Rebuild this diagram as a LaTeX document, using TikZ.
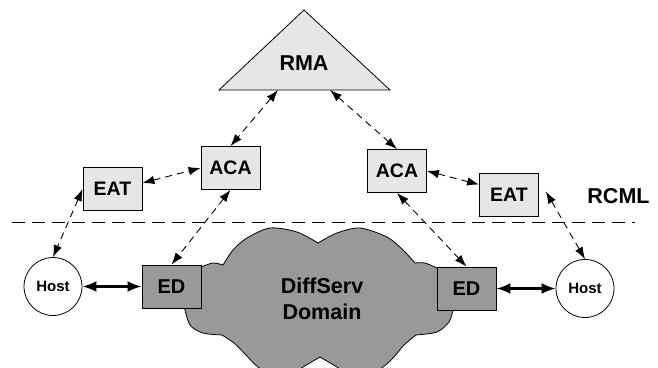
\documentclass[tikz,border=0pt]{standalone}
\usepackage{fontspec}
\setmainfont{Liberation Sans}
\usetikzlibrary{arrows.meta}
\definecolor{boxgray}{HTML}{E6E6E6}
\definecolor{cloudgray}{HTML}{999999}

\begin{document}
\begin{tikzpicture}[x=1pt,y=1pt,
  agentbox/.style={draw, fill=boxgray, line width=0.8pt, minimum width=59pt, minimum height=43pt, inner sep=0pt, font=\fontsize{19.5}{23}\selectfont\bfseries},
  edgebox/.style={agentbox, fill=cloudgray, font=\fontsize{20}{23}\selectfont\bfseries},
  hostnode/.style={circle, draw, fill=white, line width=0.8pt, minimum size=58pt, inner sep=0pt, font=\fontsize{15}{18}\selectfont\bfseries},
  ctrl/.style={line width=0.9pt, dash pattern=on 7pt off 5pt, {Latex[length=12pt,width=8.5pt]}-{Latex[length=12pt,width=8.5pt]}},
  data/.style={line width=2.4pt, {Latex[length=14pt,width=11pt]}-{Latex[length=14pt,width=11pt]}}]

\useasboundingbox (0,0) rectangle (658,367);

% DiffServ cloud, cut off by the lower edge
\begin{scope}
\clip (0,0) rectangle (658,367);
\draw [fill=cloudgray, line width=0.8pt]
  plot [smooth] coordinates {(201,100) (213,104) (223,102)}
  -- plot [smooth] coordinates {(223,102) (233,117) (247,129) (270,139) (297,135) (318,124)}
  -- plot [smooth] coordinates {(318,124) (337,134) (360,139) (387,130) (403,117) (415,104)}
  -- plot [smooth] coordinates {(415,104) (425,104) (437,99)}
  -- (453,57)
  -- plot [smooth] coordinates {(453,57) (449,45) (437,35) (416,32)}
  -- plot [smooth] coordinates {(416,32) (404,22) (394,10) (383,0) (360,-14) (337,0) (320,10)}
  -- plot [smooth] coordinates {(320,10) (303,0) (280,-14) (258,0) (246,12) (234,24) (222,32)}
  -- plot [smooth] coordinates {(222,32) (203,34) (190,42) (184,61)}
  -- cycle;
\end{scope}
\node [align=center, font=\fontsize{21.5}{26}\selectfont\bfseries] (domain) at (322,68) {DiffServ\\Domain};

% RMA on top, with the two points where its links leave the base
\draw [fill=boxgray, line width=0.8pt] (219,277) -- (304,357) -- (390,277) -- cycle;
\node [font=\fontsize{21.5}{25}\selectfont\bfseries] (rma) at (304,304) {RMA};
\coordinate (rmal) at (278,277);
\coordinate (rmar) at (330,277);

% Agents of the control layer
\node [agentbox] (acal) at (230.5,199) {ACA};
\node [agentbox] (acar) at (397,196) {ACA};
\node [agentbox] (eatl) at (112.5,178) {EAT};
\node [agentbox] (eatr) at (509,172.5) {EAT};

% Layer border
\draw [line width=0.9pt, dash pattern=on 13pt off 7pt] (12,145) -- (635,145);
\node [font=\fontsize{21.5}{25}\selectfont\bfseries] (rcml) at (618.5,171) {RCML};

% Edge devices and hosts
\node [edgebox] (edl) at (171.5,80.5) {ED};
\node [edgebox] (edr) at (466.5,78.5) {ED};
\node [hostnode] (hostl) at (53,80.5) {Host};
\node [hostnode] (hostr) at (585,78.5) {Host};

% Signalling links
\draw [ctrl] (rmal) -- (acal.north);
\draw [ctrl] (rmar) -- (acar.north);
\draw [ctrl] ([yshift=6pt]eatl.east) -- (acal.west);
\draw [ctrl] (acar.east) -- ([yshift=10pt]eatr.west);
\draw [ctrl] (eatl.west) -- (hostl.north);
\draw [ctrl] (acal.south) -- (edl.north);
\draw [ctrl] (acar.south) -- (edr.north);
\draw [ctrl] ([xshift=7pt,yshift=3pt]eatr.east) -- (hostr.north);

% Data links
\draw [data] (hostl) -- (edl);
\draw [data] (edr) -- (hostr);

\end{tikzpicture}
\end{document}
